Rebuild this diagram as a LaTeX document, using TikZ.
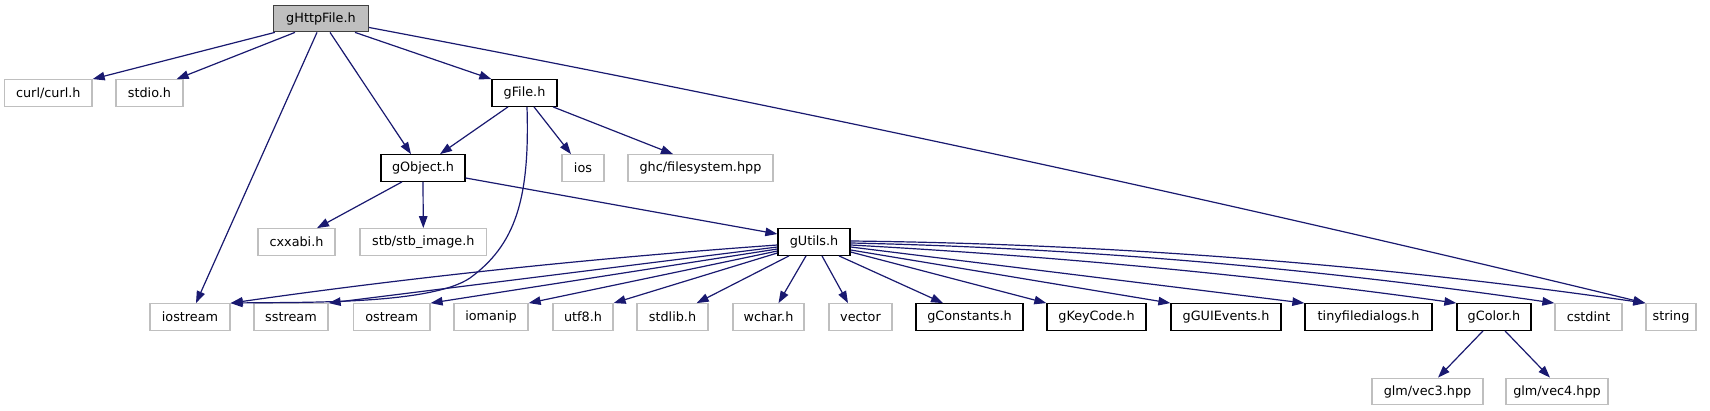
\documentclass[tikz,border=0pt]{standalone}
\usepackage{fontspec}
\setmainfont{DejaVu Sans}
\usetikzlibrary{arrows.meta}
\definecolor{edgec}{HTML}{191970}
\definecolor{grayb}{HTML}{BFBFBF}
\definecolor{darkb}{HTML}{404040}
\begin{document}
\begin{tikzpicture}[x=1pt,y=-1pt,
  box/.style={draw, rectangle, minimum height=26.5pt, inner sep=0pt,
    font=\fontsize{12.8}{14}\selectfont, line width=1.3pt},
  sysbox/.style={box, draw=grayb},
  locbox/.style={box, draw=black},
  rootbox/.style={box, draw=darkb, fill=grayb},
  edge/.style={draw=edgec, line width=1.2pt, -{Triangle[length=12pt,width=8.5pt]}}
]
\fill[white] (0,0) rectangle (1710,411);
\useasboundingbox (0,0) rectangle (1710,411);

% row 0
\node[rootbox, minimum width=95pt] (http) at (321,18.5) {gHttpFile.h};
% row 1
\node[sysbox, minimum width=87.5pt] (curl) at (48.3,93) {curl/curl.h};
\node[sysbox, minimum width=67pt] (stdio) at (149.5,93) {stdio.h};
\node[locbox, minimum width=65pt] (gfile) at (524.5,93) {gFile.h};
% row 2
\node[locbox, minimum width=84pt] (gobj) at (423,168) {gObject.h};
\node[sysbox, minimum width=42pt] (ios) at (583,168) {ios};
\node[sysbox, minimum width=145pt] (ghc) at (700.5,168) {ghc/filesystem.hpp};
% row 3
\node[sysbox, minimum width=77pt] (cxx) at (296.5,242) {cxxabi.h};
\node[sysbox, minimum width=126.5pt] (stb) at (423.3,242) {stb/stb\_image.h};
\node[locbox, minimum width=72pt] (gutils) at (814,242) {gUtils.h};
% row 4
\node[sysbox, minimum width=80pt] (iostream) at (190,317) {iostream};
\node[sysbox, minimum width=74pt] (sstream) at (291,317) {sstream};
\node[sysbox, minimum width=76.5pt] (ostream) at (391.7,317) {ostream};
\node[sysbox, minimum width=74pt] (iomanip) at (491,317) {iomanip};
\node[sysbox, minimum width=60pt] (utf8) at (583,317) {utf8.h};
\node[sysbox, minimum width=71pt] (stdlib) at (672.5,317) {stdlib.h};
\node[sysbox, minimum width=71pt] (wchar) at (768.5,317) {wchar.h};
\node[sysbox, minimum width=63pt] (vector) at (860.5,317) {vector};
\node[locbox, minimum width=107pt] (gconst) at (969.5,317) {gConstants.h};
\node[locbox, minimum width=99pt] (gkey) at (1096.5,317) {gKeyCode.h};
\node[locbox, minimum width=110pt] (ggui) at (1226,317) {gGUIEvents.h};
\node[locbox, minimum width=127pt] (tiny) at (1368.5,317) {tinyfiledialogs.h};
\node[locbox, minimum width=74pt] (gcolor) at (1494,317) {gColor.h};
\node[sysbox, minimum width=67pt] (cstdint) at (1588.5,317) {cstdint};
\node[sysbox, minimum width=50pt] (string) at (1671,317) {string};
% row 5
\node[sysbox, minimum width=111pt] (vec3) at (1427.5,391.5) {glm/vec3.hpp};
\node[sysbox, minimum width=102pt] (vec4) at (1557,391.5) {glm/vec4.hpp};

% gHttpFile edges
\draw[edge] ([xshift=2pt]http.south west) -- (curl.north east);
\draw[edge] ([xshift=-26pt]http.south) -- ([xshift=-7pt]stdio.north east);
\draw[edge] ([xshift=-4pt]http.south) -- ([xshift=6pt]iostream.north);
\draw[edge] ([xshift=9pt]http.south) -- ([xshift=-12pt]gobj.north);
\draw[edge] ([xshift=34pt]http.south) -- (gfile.north west);
\draw[edge] ([yshift=-9pt]http.east) .. controls (795,108) and (1220,200) .. (string.north west);

% gFile edges
\draw[edge] ([xshift=-16.5pt]gfile.south) -- ([xshift=17pt]gobj.north);
\draw[edge] ([xshift=2.5pt]gfile.south) .. controls (530,200) and (515,245) .. (470,278)
   .. controls (430,305) and (300,302) .. (iostream.north east);
\draw[edge] ([xshift=9.5pt]gfile.south) -- ([xshift=-12pt]ios.north);
\draw[edge] ([xshift=28.5pt]gfile.south) -- ([xshift=-27.5pt]ghc.north);

% gObject edges
\draw[edge] ([xshift=-21pt]gobj.south) -- ([xshift=20.5pt]cxx.north);
\draw[edge] (gobj.south) -- (stb.north);
\draw[edge] ([yshift=-10pt]gobj.east) -- ([yshift=8pt]gutils.west);

% gUtils edges
\draw[edge] ([yshift=-3pt]gutils.west) .. controls (595,258) and (413,277) .. (iostream.north east);
\draw[edge] ([yshift=-5pt]gutils.west) -- (sstream.north east);
\draw[edge] ([yshift=-7pt]gutils.west) -- (ostream.north east);
\draw[edge] ([yshift=-9pt]gutils.west) -- (iomanip.north east);
\draw[edge] ([yshift=-11pt]gutils.west) -- (utf8.north east);
\draw[edge] ([xshift=-25pt]gutils.south) -- ([xshift=-12pt]stdlib.north east);
\draw[edge] ([xshift=-8pt]gutils.south) -- ([xshift=10pt]wchar.north);
\draw[edge] ([xshift=8pt]gutils.south) -- ([xshift=-12.5pt]vector.north);
\draw[edge] ([xshift=25pt]gutils.south) -- ([xshift=-26.5pt]gconst.north);
\draw[edge] ([yshift=-10pt]gutils.east) -- (gkey.north west);
\draw[edge] ([yshift=-8pt]gutils.east) -- (ggui.north west);
\draw[edge] ([yshift=-5pt]gutils.east) -- (tiny.north west);
\draw[edge] ([yshift=-3pt]gutils.east) .. controls (1052,256) and (1255,275) .. (gcolor.north west);
\draw[edge] ([yshift=-1pt]gutils.east) .. controls (1085,248) and (1320,269) .. (cstdint.north west);
\draw[edge] ([yshift=1pt]gutils.east) .. controls (1115,244) and (1381,265) .. (string.north west);

% gColor edges
\draw[edge] ([xshift=-11pt]gcolor.south) -- ([xshift=10.5pt]vec3.north);
\draw[edge] ([xshift=11pt]gcolor.south) -- ([xshift=-7pt]vec4.north);
\end{tikzpicture}
\end{document}
